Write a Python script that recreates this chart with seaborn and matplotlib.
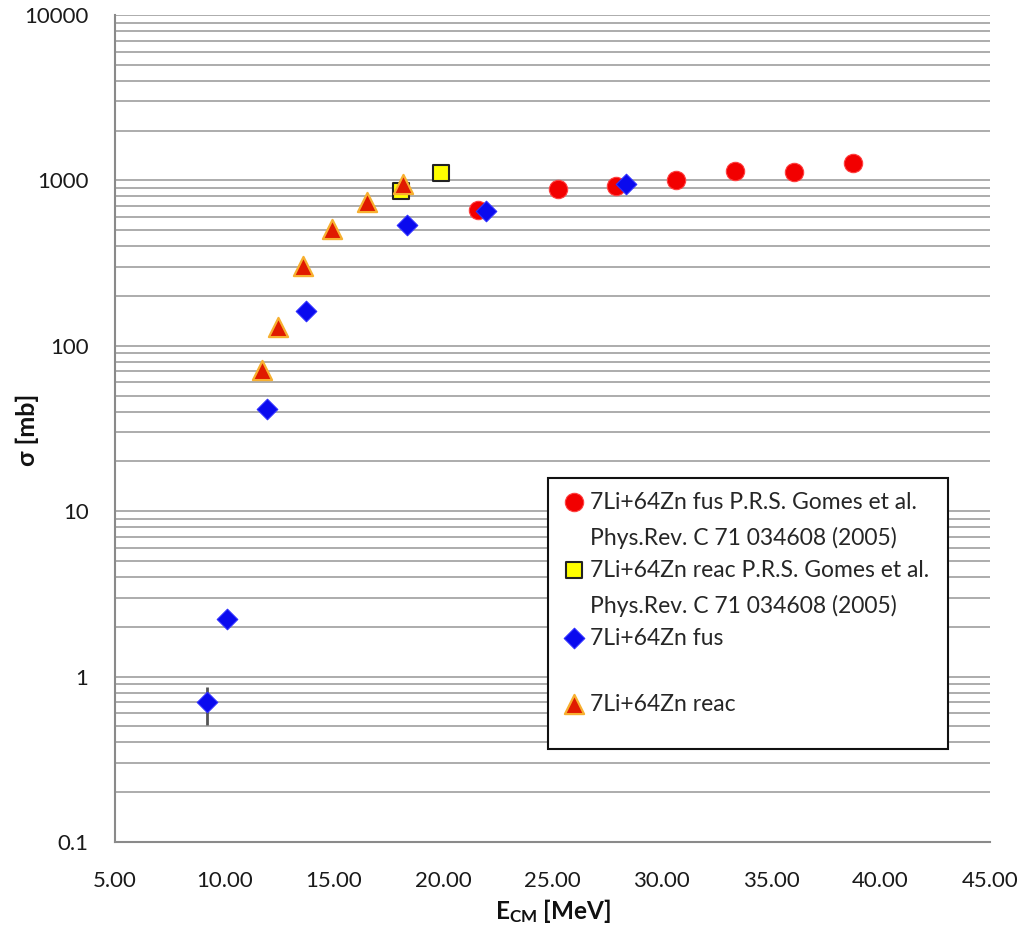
import matplotlib
matplotlib.use("Agg")
import matplotlib.pyplot as plt
import seaborn as sns
from matplotlib.ticker import MultipleLocator, FixedLocator, FuncFormatter, NullFormatter

# Cross sections for 7Li + 64Zn (sigma in mb vs centre-of-mass energy in MeV)
gomes_fus_e = [21.58, 25.27, 27.90, 30.65, 33.36, 36.05, 38.75]
gomes_fus_sigma = [663, 889, 930, 1008, 1146, 1121, 1270]

gomes_reac_e = [18.07, 19.89]
gomes_reac_sigma = [868, 1114]

fus_e = [9.19, 10.13, 11.93, 13.73, 18.33, 21.96, 28.36]
fus_sigma = [0.70, 2.23, 41.4, 163, 536, 655, 952]
fus_err_lo = [0.19, 0, 0, 0, 0, 0, 0]
fus_err_hi = [0.17, 0, 0, 0, 0, 0, 0]

reac_e = [11.73, 12.44, 13.58, 14.93, 16.51, 18.17]
reac_sigma = [71, 129, 304, 511, 738, 952]

labels = [
    "7Li+64Zn fus P.R.S. Gomes et al.\nPhys.Rev. C 71 034608 (2005)",
    "7Li+64Zn reac P.R.S. Gomes et al.\nPhys.Rev. C 71 034608 (2005)",
    "7Li+64Zn fus\n",
    "7Li+64Zn reac\n",
]
x_ticks = [5, 10, 15, 20, 25, 30, 35, 40, 45]
y_ticks = [0.1, 1, 10, 100, 1000, 10000]

sns.set_style("white")
plt.rcParams["font.family"] = ["Lato", "DejaVu Sans"]
plt.rcParams["mathtext.fontset"] = "custom"
plt.rcParams["mathtext.rm"] = "Lato"
plt.rcParams["mathtext.bf"] = "Lato:bold"

fig = plt.figure(figsize=(10.21, 9.30), dpi=100)
ax = fig.add_axes([0.1126, 0.0946, 0.857, 0.8893])

sns.scatterplot(x=gomes_fus_e, y=gomes_fus_sigma, marker="o", s=175,
                color="#f20000", edgecolor="#ff4040", linewidth=0.8,
                label=labels[0], ax=ax, zorder=3)
sns.scatterplot(x=gomes_reac_e, y=gomes_reac_sigma, marker="s", s=140,
                color="#ffff00", edgecolor="#222222", linewidth=1.5,
                label=labels[1], ax=ax, zorder=4)
ax.errorbar(fus_e, fus_sigma, yerr=[fus_err_lo, fus_err_hi], fmt="none",
            ecolor="#555555", elinewidth=2, capsize=0, zorder=4.5)
sns.scatterplot(x=fus_e, y=fus_sigma, marker="D", s=110,
                color="#0a0aee", edgecolor="#3030ff", linewidth=0.8,
                label=labels[2], ax=ax, zorder=5)
sns.scatterplot(x=reac_e, y=reac_sigma, marker="^", s=190,
                color="#e01a00", edgecolor="#f7b030", linewidth=1.6,
                label=labels[3], ax=ax, zorder=6)

ax.set_yscale("log")
ax.set_xlim(5, 45)
ax.set_ylim(0.1, 10000)

ax.xaxis.set_major_locator(FixedLocator(x_ticks))
ax.xaxis.set_minor_locator(MultipleLocator(1))
ax.xaxis.set_major_formatter(FuncFormatter(lambda v, _: f"{v:.2f}"))
ax.yaxis.set_major_locator(FixedLocator(y_ticks))
minor_y = [m * 10.0 ** d for d in range(-1, 4) for m in range(2, 10)]
ax.yaxis.set_minor_locator(FixedLocator(minor_y))
ax.yaxis.set_major_formatter(FuncFormatter(lambda v, _: f"{v:g}"))
ax.yaxis.set_minor_formatter(NullFormatter())

ax.grid(False)
ax.grid(True, which="both", axis="y", color="#acacac", linewidth=1.4)
ax.set_axisbelow(True)

for side in ("top", "right"):
    ax.spines[side].set_visible(False)
for side in ("left", "bottom"):
    ax.spines[side].set_color("#8a8a8a")
    ax.spines[side].set_linewidth(1.5)

ax.tick_params(axis="x", which="major", direction="inout", length=14, width=1.3,
               color="#8a8a8a", labelsize=16, labelcolor="#1a1a1a", pad=14)
ax.tick_params(axis="x", which="minor", direction="inout", length=7, width=1.0,
               color="#8a8a8a")
ax.tick_params(axis="y", which="major", direction="out", length=8, width=1.3,
               color="#8a8a8a", labelsize=16, labelcolor="#1a1a1a", pad=11)
ax.tick_params(axis="y", which="minor", length=0)

ax.set_xlabel(r"$\mathbf{E_{CM}}$ [MeV]", fontsize=17.5, fontweight="bold",
              color="#111111", labelpad=4)
ax.set_ylabel("σ [mb]", fontsize=18, fontweight="bold", color="#111111")
ax.yaxis.set_label_coords(-0.087, 0.498)

leg = ax.legend(loc="upper left", bbox_to_anchor=(0.495, 0.44, 0.457, 0),
                mode="expand", frameon=True, fancybox=False, framealpha=1,
                edgecolor="#111111", fontsize=16.5, labelspacing=0.45,
                handletextpad=0.15, borderpad=0.6, handlelength=1.1,
                borderaxespad=0)
leg.get_frame().set_linewidth(1.5)
legend_texts = leg.get_texts()
for t in legend_texts:
    t.set_linespacing(1.8)
legend_texts[-1].set_linespacing(1.0)
for column in leg._legend_handle_box.get_children():
    for row in column.get_children():
        row.align = "top"

fig.savefig("out.png", dpi=100, facecolor="white")
